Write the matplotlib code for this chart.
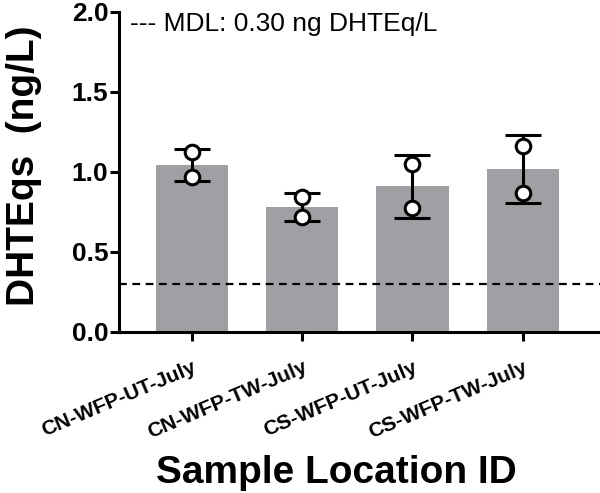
import matplotlib.pyplot as plt
import numpy as np

plt.rcParams['font.family'] = ['Liberation Sans', 'DejaVu Sans']

# values
sites = ['CN-WFP-UT-July', 'CN-WFP-TW-July', 'CS-WFP-UT-July', 'CS-WFP-TW-July']
means = [1.045, 0.780, 0.910, 1.018]
sd = [0.100, 0.088, 0.197, 0.213]
rep_a = [1.125, 0.844, 1.050, 1.163]
rep_b = [0.970, 0.719, 0.775, 0.869]
mdl = 0.30

x = np.arange(len(sites))

fig = plt.figure(figsize=(6.0, 4.93), dpi=100)
ax = fig.add_axes([0.198, 0.3266, 0.802, 0.6491])

ax.bar(x, means, width=0.655, color='#a0a0a4', zorder=1)
ax.errorbar(x, means, yerr=sd, fmt='none', ecolor='black', elinewidth=2.2,
            capsize=13, capthick=2.2, zorder=2)
for reps in (rep_a, rep_b):
    ax.plot(x, reps, 'o', ms=10.5, mfc='white', mec='black', mew=2.2, zorder=3)

ax.axhline(mdl, color='black', lw=1.6, ls=(0, (3.5, 2.5)), zorder=2)
ax.text(-0.56, 1.925, '--- MDL: 0.30 ng DHTEq/L', fontsize=19, va='center', ha='left')

ax.set_xlim(-0.662, 3.70)
ax.set_ylim(0, 2.0)
ax.set_yticks([0.0, 0.5, 1.0, 1.5, 2.0])
ax.set_yticklabels(['0.0', '0.5', '1.0', '1.5', '2.0'], fontsize=19, fontweight='bold')
ax.set_xticks(x)
ax.set_xticklabels(sites, fontsize=15, fontweight='bold', rotation=23,
                   ha='right', va='top', rotation_mode='anchor')

for side in ['top', 'right']:
    ax.spines[side].set_visible(False)
for side in ['left', 'bottom']:
    ax.spines[side].set_linewidth(2.2)
ax.tick_params(axis='both', width=2.2, length=6.5, direction='out')
ax.tick_params(axis='x', pad=12)
ax.tick_params(axis='y', pad=1)

ax.set_ylabel('DHTEqs  (ng/L)', fontsize=28, fontweight='bold')
ax.yaxis.set_label_coords(-0.16, 0.52)
ax.set_xlabel('Sample Location ID', fontsize=28, fontweight='bold')
ax.xaxis.set_label_coords(0.453, -0.472)
ax.xaxis.label.set_va('baseline')

fig.savefig('out.png', dpi=100)
